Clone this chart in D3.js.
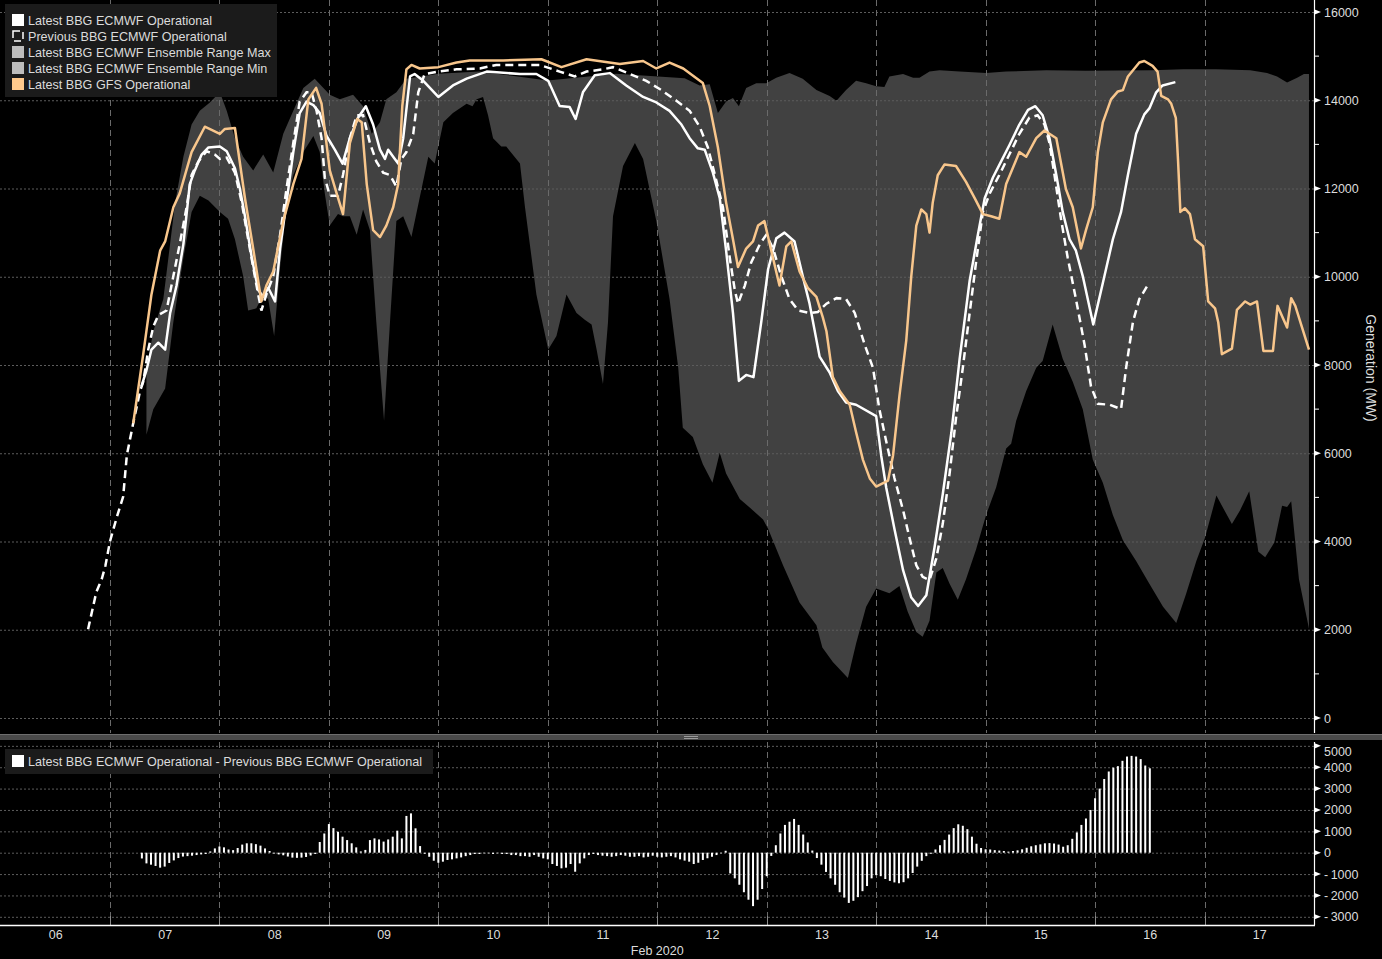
<!DOCTYPE html>
<html><head><meta charset="utf-8">
<script src="https://cdn.jsdelivr.net/npm/d3@7"></script>
<style>
body{margin:0;background:#000;overflow:hidden}
svg{display:block}
text{font-family:"Liberation Sans",Arial,sans-serif}
</style>
</head><body>
<svg id="chart" width="1382" height="959"></svg>
<script>
// ---------- DATA (hours since 06 Feb 2020 00:00, value in MW) ----------
const dayLabels = ["06","07","08","09","10","11","12","13","14","15","16","17"];
const mainTicks = [0,2000,4000,6000,8000,10000,12000,14000,16000];
const diffTicks = [-3000,-2000,-1000,0,1000,2000,3000,4000,5000];
const legendNames = ["Latest BBG ECMWF Operational","Previous BBG ECMWF Operational","Latest BBG ECMWF Ensemble Range Max","Latest BBG ECMWF Ensemble Range Min","Latest BBG GFS Operational"];
const diffName = "Latest BBG ECMWF Operational - Previous BBG ECMWF Operational";

const latestEcmwf = [[30.9,7515],[32,7880],[33.1,8350],[34.6,8505],[36.1,8350],[37.2,9180],[38.6,9800],[40.1,10740],[41.5,12100],[42.6,12410],[44.1,12770],[45.6,12930],[48.1,12950],[49.6,12845],[51.4,12460],[52.5,11990],[53.6,11370],[55.1,10430],[56.5,9700],[57.6,9545],[58.7,9750],[60.2,9440],[61.3,10640],[62.7,11680],[64.2,12825],[65.6,13710],[67.1,13970],[68.6,13890],[70,13710],[71.5,13190],[73.3,12880],[75,12565],[76.6,13140],[78.4,13605],[80.1,13865],[81.7,13450],[83.2,12880],[84.3,12670],[85,12880],[86.1,12720],[87.2,12565],[88.3,13140],[89.8,14540],[90.8,14595],[92.7,14440],[96,14075],[99.2,14335],[102.2,14490],[106.6,14650],[113.9,14595],[117.5,14595],[120.1,14440],[122.6,13870],[124.8,13845],[126.1,13575],[127.7,14180],[130.3,14565],[133.6,14615],[137.2,14335],[140.9,14075],[143.8,13950],[146.7,13760],[149.3,13450],[151.1,13140],[152.9,12910],[154.4,12880],[156.2,12360],[157.7,11780],[159.1,10590],[160.6,9180],[161.9,7640],[163.5,7775],[165.1,7725],[166.8,8970],[168.3,10170],[170.1,10870],[171.9,11000],[174.1,10800],[175.9,10015],[177.4,9390],[179.6,8190],[181.8,7830],[183.6,7410],[185.4,7150],[187.6,7100],[192,6840],[193.1,5950],[194.2,5225],[196,4290],[197.9,3350],[199.7,2730],[201.2,2540],[203,2780],[204.8,3870],[206.6,5070],[208.5,6475],[210.3,8140],[212.5,9910],[214.3,10950],[215.8,11780],[217.6,12250],[219.4,12615],[221.2,12980],[223.4,13450],[225.3,13780],[226.9,13865],[228.5,13660],[230,13140],[231.5,12305],[232.9,11470],[234.4,10850],[235.8,10590],[237.3,10015],[239.6,8920],[241.7,9860],[243.9,10850],[245.7,11470],[247.2,12305],[249,13240],[250.8,13680],[251.9,13815],[253.4,14180],[254.8,14335],[257.6,14410]];

const previousEcmwf = [[19.2,2010],[21,2850],[22.2,3150],[23,3450],[24,4000],[25.5,4550],[26.9,5020],[27.7,5955],[29.1,6680],[30.6,7410],[31.3,7620],[32.4,8350],[33.5,8870],[34.6,9130],[36.4,9235],[37.9,10015],[39.3,10740],[40.8,11575],[41.9,12305],[43.4,12615],[45.2,12845],[47,12770],[48.1,12670],[49.6,12700],[51.4,12360],[52.9,11680],[54.3,10850],[55.4,10220],[56.5,9600],[57.2,9235],[58.3,9600],[59.8,10015],[61.3,10950],[62.7,11990],[64.2,13030],[65.6,13970],[67.1,14180],[68.2,14180],[69.3,13760],[70.4,13140],[71.1,12250],[72.2,11835],[74,11835],[75.1,12305],[76.6,13140],[78.1,13660],[79.5,13660],[81,13030],[82.4,12615],[83.9,12360],[85.4,12305],[86.8,12045],[87.9,12670],[89,12825],[90.5,13240],[91.6,14180],[93,14595],[96,14650],[100,14700],[105.1,14720],[108.7,14800],[118.2,14800],[122.6,14650],[125.9,14540],[128.5,14650],[132.1,14700],[134.3,14750],[138,14595],[141.6,14440],[144.9,14230],[148.2,13990],[151.1,13760],[153.3,13400],[155.1,12930],[156.9,12200],[158.4,11575],[159.9,10430],[161,9700],[161.7,9390],[163.2,9800],[164.6,10325],[166.5,10740],[167.9,10950],[169.4,10640],[171.2,10015],[173,9495],[174.9,9235],[177.4,9180],[179.2,9200],[181.1,9390],[183.3,9515],[185.4,9495],[187.3,9180],[189.5,8455],[191.3,7935],[192.7,7000],[194.2,6270],[196,5440],[197.9,4710],[199.3,4085],[200.8,3460],[202.2,3200],[203.7,3125],[205.2,3620],[206.6,4400],[208.1,5540],[209.5,6790],[211,7935],[212.5,9180],[213.9,10325],[215.4,11470],[216.9,11890],[219,12305],[221.2,12770],[223.4,13240],[225.6,13605],[227.4,13660],[228.9,13450],[230,13030],[231.1,12305],[232.6,11265],[234,10430],[235.8,9495],[237.7,8455],[239.1,7515],[240.6,7120],[243.2,7100],[245.7,7000],[246.8,7935],[248.3,8975],[249.7,9495],[251.5,9800]];

const ensembleMax = [[32,7900],[33.5,8765],[35.7,9495],[38.3,11680],[40.1,12720],[41.9,13450],[43.7,13760],[45.9,13950],[48.1,14180],[49.6,13760],[51.4,13140],[53.2,12720],[55.4,12410],[57.6,12770],[59.8,12360],[62,13240],[64.2,13760],[66.4,14280],[68.9,14490],[70.8,14280],[72.2,14125],[74.4,14020],[77.3,14125],[79.5,13865],[81.4,13240],[83.2,13500],[84.6,14020],[86.8,14180],[89,14490],[93,14550],[96,14600],[105,14650],[120,14450],[135,14600],[150,14500],[153.3,14335],[155.5,14365],[157.3,13710],[159.1,13970],[160.6,14050],[161.9,13865],[163.5,14280],[165.7,14385],[167.9,14385],[170.1,14510],[173,14615],[175.9,14490],[178.9,14230],[181.8,14095],[183.3,13990],[185.4,14230],[187.6,14440],[189.8,14385],[192,14315],[193.8,14300],[194.9,14540],[197.9,14595],[200.1,14510],[201.5,14510],[203.7,14650],[205.9,14680],[210.3,14650],[216.1,14615],[220.5,14650],[229.3,14680],[238,14670],[252.6,14680],[259.3,14700],[266.6,14700],[274,14680],[277.7,14615],[279.9,14540],[282.1,14405],[284.3,14510],[285.8,14595],[286.9,14595]];

const ensembleMin = [[32,6420],[33.5,7000],[36.1,7465],[37.9,8975],[40.1,10430],[41.9,11470],[43.7,11835],[45.6,11730],[48.1,11470],[49.9,11315],[51.4,10850],[53.2,10015],[54.3,9235],[56.1,9285],[57.6,9600],[58.7,9495],[60,8660],[61.3,10220],[62.7,11575],[64.2,12305],[66.4,12825],[68.6,13190],[70,12825],[71.1,11890],[72.2,11160],[74,11420],[75.1,11370],[76.6,11370],[78.1,10950],[79.5,11525],[81,11055],[82.4,8975],[84.1,6735],[85.4,8975],[86.8,11265],[88.3,11370],[90.1,10900],[91.9,11785],[93.8,12720],[95.2,12565],[97.1,13500],[99.2,13710],[102.2,13920],[103.5,13865],[104.4,14020],[105.8,14075],[106.9,13660],[108,13140],[109.8,12950],[110.9,12950],[113.9,12565],[115,11575],[117.5,9600],[120.1,8350],[121.9,8660],[124.1,9600],[126.3,9180],[128.1,9025],[129.6,8920],[130.7,8350],[132.1,7570],[133.2,8970],[134.3,11370],[136.5,12510],[139.1,13030],[140.9,12670],[143.8,11265],[146.7,9495],[148.6,7935],[149.6,6580],[151.8,6370],[154,5750],[156.1,5330],[157.7,6010],[159.1,5540],[162.1,4965],[165,4705],[167.2,4500],[168.3,4290],[171.6,3455],[175.2,2620],[178.9,2100],[180.2,1600],[182.5,1270],[185.8,905],[187.6,1690],[189.8,2520],[192,2935],[194.9,2830],[197.1,2990],[198.9,2415],[200.8,1950],[202.2,1840],[203.7,2205],[205.2,3300],[206.6,3400],[208.1,3040],[209.9,2680],[211.7,3145],[213.9,3820],[216.1,4600],[218.3,5225],[220.5,6110],[221.6,6215],[222.7,6735],[224.9,7410],[227.1,7935],[228.5,8090],[230.7,8920],[232.9,8140],[235.1,7620],[237.3,7000],[239.5,5850],[241.7,5330],[243.9,4600],[246.1,4030],[249,3560],[251.9,3040],[254.9,2520],[257.8,2155],[260,2830],[262.2,3560],[264.1,4085],[266.6,5040],[270,4395],[271.8,4710],[273.8,5140],[275.8,3770],[277.3,3645],[279.3,3980],[281,4810],[282.1,4780],[283,4915],[284.7,3145],[286.9,2020]];

const gfsOperational = [[29.1,6680],[31.3,8245],[33.1,9600],[35,10590],[36.1,10800],[37.9,11575],[39.3,11890],[41.9,12825],[44.8,13400],[48.1,13240],[49.2,13350],[51.4,13370],[53.6,11780],[55.4,10640],[57.2,9440],[58.3,9800],[59.8,10120],[62,11260],[64.2,12100],[66,12670],[67.5,14020],[69.2,14280],[70.4,13920],[72.2,12410],[73.7,11890],[75.1,11420],[76.6,13030],[78.2,13575],[79.2,13500],[80.3,12100],[81.7,11055],[83.2,10900],[84.6,11160],[86.1,11575],[87.2,12100],[88.1,13870],[89,14700],[90.1,14800],[91.9,14720],[96,14750],[100,14855],[102.9,14900],[110.2,14900],[118.6,14930],[123,14750],[128.5,14930],[135.8,14820],[140.9,14890],[143.8,14720],[146.7,14855],[149.7,14720],[154,14390],[155.5,13870],[157.3,12930],[159.1,11680],[160.6,10850],[161.7,10220],[163.5,10640],[165,10800],[166.1,11160],[167.5,11260],[169,10590],[170.8,9800],[172.3,10690],[173.4,10800],[175.2,10120],[177,9750],[178.9,9545],[180.3,9080],[181.1,8765],[182.5,7725],[184,7410],[186.2,7100],[187.6,6475],[189.1,5850],[190.6,5430],[192,5245],[194.6,5380],[195.7,5950],[197.1,7300],[198.6,8560],[199.7,10015],[200.8,11160],[201.9,11525],[203,11420],[203.7,11000],[204.4,11680],[205.5,12300],[207,12545],[209.5,12510],[211.7,12150],[213.6,11780],[215.4,11420],[217.2,11370],[219,11315],[220.5,12100],[223.4,12825],[224.9,12720],[227.1,13140],[228.9,13315],[231.5,13140],[233.6,11990],[235.1,11575],[236.9,10640],[238,11055],[239.5,11575],[240.6,12825],[241.7,13500],[243.5,14020],[245,14200],[246.1,14230],[247.2,14540],[249.7,14855],[250.8,14890],[252.6,14780],[253.7,14650],[254.5,14100],[256,14020],[256.7,13920],[257.7,13600],[258.2,12615],[258.7,11470],[259.7,11550],[260.8,11420],[261.9,10850],[263.7,10690],[264.8,9440],[266.3,9285],[267,8970],[267.8,8245],[270,8370],[271.1,9250],[272.9,9440],[274,9370],[275.5,9440],[276.9,8320],[279,8320],[280,9340],[282.1,8850],[283,9515],[283.9,9340],[286.9,8350]];

// hourly difference bars, first bar at hour 31
const diffStartHour = 31;
const diffValues = [-270,-500,-560,-620,-700,-650,-480,-360,-250,-180,-160,-140,-110,-80,-60,
60,200,290,250,150,120,220,380,440,440,400,330,200,80,-40,-80,-120,-180,-230,-240,-230,-200,-130,-60,
500,900,1340,1150,980,750,590,440,250,60,130,590,670,620,520,620,750,1030,670,1720,1840,1140,310,-50,
-190,-375,-470,-420,-340,-310,-265,-220,-160,-110,-60,-60,-30,-30,-60,-30,-60,-60,-110,-110,-160,-160,-190,-110,-190,-265,-310,-530,-620,-730,-700,-530,-890,-500,-265,-110,-60,
-110,-140,-160,-190,-160,-110,-140,-190,-190,-160,-220,-190,-140,-190,-220,-190,-160,-220,-310,-370,-420,-530,-470,-340,-260,-190,-110,-30,90,
-970,-1200,-1500,-1850,-2200,-2500,-2200,-1700,-1100,-150,
350,900,1300,1450,1580,1300,850,480,100,
-250,-560,-900,-1200,-1500,-1850,-2100,-2350,-2250,-2080,-1800,-1560,-1200,-1050,-1100,-1230,-1320,-1390,-1430,-1380,-1200,-950,-650,-380,-160,-50,
150,350,600,850,1150,1330,1260,1100,750,420,220,160,150,120,100,80,50,80,110,160,230,300,350,390,440,450,430,380,280,350,650,950,1300,1600,2000,2550,3000,3450,3800,3980,4050,4300,4500,4530,4500,4380,4080,3950];

// ---------- DRAWING ----------
const svg = d3.select("#chart");
const base = new Date(2020,1,6,0,0,0);
const T = h => new Date(base.getTime() + h*3600000);
const plotRight = 1314;
const x = d3.scaleTime().domain([base, new Date(2020,1,18)]).range([0.5, plotRight]);
const y = d3.scaleLinear().domain([0,16000]).range([718,12]);
const y2 = d3.scaleLinear().domain([0,5000]).range([852.7,745.85]);
const mainTop = 0, mainBottom = 733, subTop = 742, subBottom = 925;
const textCol = "#dcdcdc";

svg.append("rect").attr("width",1382).attr("height",959).attr("fill","#000");

// ensemble range polygon
const pts = ensembleMax.concat(ensembleMin.slice().reverse());
svg.append("path")
  .attr("d", d3.line().x(d=>x(T(d[0]))).y(d=>y(d[1]))(pts) + "Z")
  .attr("fill","#414141");

// gridlines
const days = d3.range(1,12).map(i => new Date(2020,1,6+i));
const gMain = svg.append("g");
gMain.selectAll("line.h").data(mainTicks).join("line")
  .attr("x1",0).attr("x2",plotRight).attr("y1",d=>y(d)+0.5).attr("y2",d=>y(d)+0.5)
  .attr("stroke","#5c5c5c").attr("stroke-dasharray","2,2");
gMain.selectAll("line.v").data(days).join("line")
  .attr("x1",d=>Math.round(x(d))+0.5).attr("x2",d=>Math.round(x(d))+0.5).attr("y1",mainTop).attr("y2",mainBottom)
  .attr("stroke","#6a6a6a").attr("stroke-dasharray","6,4");

const gSub = svg.append("g");
gSub.selectAll("line.h").data(diffTicks).join("line")
  .attr("x1",0).attr("x2",plotRight).attr("y1",d=>y2(d)+0.5).attr("y2",d=>y2(d)+0.5)
  .attr("stroke","#5c5c5c").attr("stroke-dasharray","2,2");
gSub.selectAll("line.v").data(days).join("line")
  .attr("x1",d=>Math.round(x(d))+0.5).attr("x2",d=>Math.round(x(d))+0.5).attr("y1",subTop).attr("y2",subBottom-9)
  .attr("stroke","#6a6a6a").attr("stroke-dasharray","6,4");
gSub.selectAll("line.t").data(days).join("line")
  .attr("x1",d=>Math.round(x(d))+0.5).attr("x2",d=>Math.round(x(d))+0.5).attr("y1",subBottom-9).attr("y2",subBottom)
  .attr("stroke","#8a8a8a");

// lines
const line = d3.line().x(d=>x(T(d[0]))).y(d=>y(d[1]));
svg.append("path").attr("d",line(latestEcmwf)).attr("fill","none")
  .attr("stroke","#ffffff").attr("stroke-width",2.5).attr("stroke-linejoin","round");
svg.append("path").attr("d",line(previousEcmwf)).attr("fill","none")
  .attr("stroke","#ffffff").attr("stroke-width",2.5).attr("stroke-dasharray","8,5");
svg.append("path").attr("d",line(gfsOperational)).attr("fill","none")
  .attr("stroke","#f8c68c").attr("stroke-width",2.5).attr("stroke-linejoin","round");

// diff bars
svg.append("g").selectAll("rect").data(diffValues).join("rect")
  .attr("x",(d,i)=>x(T(diffStartHour+i))-1)
  .attr("width",2)
  .attr("y",d=>y2(Math.max(0,d)))
  .attr("height",d=>Math.abs(y2(d)-y2(0)))
  .attr("fill","#ffffff");

// separator band
svg.append("rect").attr("x",0).attr("y",734).attr("width",1382).attr("height",6).attr("fill","#4a4a4a");
svg.append("line").attr("x1",0).attr("x2",1382).attr("y1",734.5).attr("y2",734.5).attr("stroke","#6e6e6e");
svg.append("line").attr("x1",684).attr("x2",698).attr("y1",736.5).attr("y2",736.5).attr("stroke","#9a9a9a");
svg.append("line").attr("x1",684).attr("x2",698).attr("y1",738.5).attr("y2",738.5).attr("stroke","#9a9a9a");

// right axis main
svg.append("line").attr("x1",plotRight+0.5).attr("x2",plotRight+0.5).attr("y1",0).attr("y2",mainBottom).attr("stroke","#fff").attr("stroke-width",1.2);
const axR = svg.append("g").attr("transform",`translate(${plotRight},0)`)
  .call(d3.axisRight(y).tickValues(mainTicks).tickSize(0).tickPadding(10).tickFormat(d3.format("d")));
axR.select(".domain").remove();
axR.selectAll("text").attr("fill",textCol).style("font-size","12.5px");
svg.append("g").selectAll("path").data(mainTicks).join("path")
  .attr("d",d=>`M${plotRight},${y(d)-2.8}L${plotRight+7},${y(d)}L${plotRight},${y(d)+2.8}Z`).attr("fill","#fff");
svg.append("g").selectAll("line").data(d3.range(1000,16000,2000)).join("line")
  .attr("x1",plotRight).attr("x2",plotRight+5).attr("y1",d=>y(d)).attr("y2",d=>y(d)).attr("stroke","#fff");
svg.append("text").attr("transform","translate(1366,368) rotate(90)").attr("text-anchor","middle")
  .attr("fill",textCol).style("font-size","14px").text("Generation (MW)");

// right axis sub
svg.append("line").attr("x1",plotRight+0.5).attr("x2",plotRight+0.5).attr("y1",subTop).attr("y2",subBottom).attr("stroke","#fff").attr("stroke-width",1.2);
const axR2 = svg.append("g").attr("transform",`translate(${plotRight},0)`)
  .call(d3.axisRight(y2).tickValues(diffTicks).tickSize(0).tickPadding(10)
    .tickFormat(d => d<0 ? "-\u2009"+Math.abs(d) : String(d)));
axR2.select(".domain").remove();
axR2.selectAll("text").attr("fill",textCol).style("font-size","12.5px");
axR2.selectAll(".tick").filter(d=>d===5000).select("text").attr("dy","0.75em");
svg.append("g").selectAll("path").data(diffTicks).join("path")
  .attr("d",d=>`M${plotRight},${y2(d)-2.8}L${plotRight+7},${y2(d)}L${plotRight},${y2(d)+2.8}Z`).attr("fill","#fff");

// bottom axis
svg.append("line").attr("x1",0).attr("x2",plotRight+1).attr("y1",subBottom+0.5).attr("y2",subBottom+0.5).attr("stroke","#fff").attr("stroke-width",1.5);
const noon = dayLabels.map((l,i)=>new Date(2020,1,6+i,12));
const axB = svg.append("g").attr("transform",`translate(0,${subBottom})`)
  .call(d3.axisBottom(x).tickValues(noon).tickSize(0).tickPadding(5).tickFormat((d,i)=>dayLabels[i]));
axB.select(".domain").remove();
axB.selectAll("text").attr("fill",textCol).style("font-size","12.5px");
svg.append("text").attr("x",x(new Date(2020,1,12))).attr("y",955).attr("text-anchor","middle")
  .attr("fill",textCol).style("font-size","12.5px").text("Feb 2020");

// legend main
const lg = svg.append("g");
lg.append("rect").attr("x",5).attr("y",4).attr("width",272).attr("height",93).attr("fill","#1b1b1b");
const swCols = ["#ffffff",null,"#bdbdbd","#bdbdbd","#ffc98c"];
legendNames.forEach((n,i)=>{
  const cy = 20 + i*16;
  if (swCols[i]) {
    lg.append("rect").attr("x",12).attr("y",cy-6).attr("width",12).attr("height",12).attr("fill",swCols[i]);
  } else {
    lg.append("rect").attr("x",13).attr("y",cy-5).attr("width",10).attr("height",10)
      .attr("fill","none").attr("stroke","#fff").attr("stroke-width",1.5).attr("stroke-dasharray","7,4");
  }
  lg.append("text").attr("x",28).attr("y",cy+4.5).attr("fill",textCol).style("font-size","12.6px").text(n);
});

// legend sub
const lg2 = svg.append("g");
lg2.append("rect").attr("x",5).attr("y",749).attr("width",428).attr("height",25).attr("fill","#1b1b1b");
lg2.append("rect").attr("x",12).attr("y",755).attr("width",12).attr("height",12).attr("fill","#fff");
lg2.append("text").attr("x",28).attr("y",765.5).attr("fill",textCol).style("font-size","12.6px").text(diffName);
</script>
</body></html>
